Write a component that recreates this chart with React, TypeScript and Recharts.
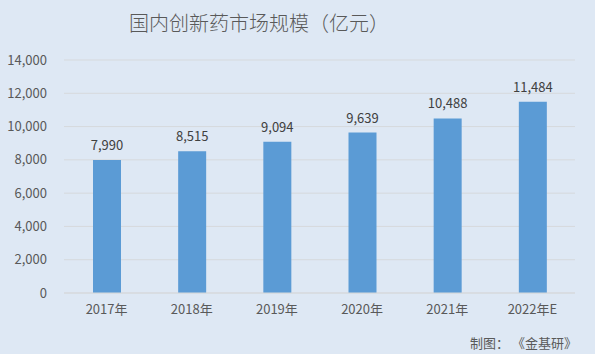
import { Bar, BarChart, CartesianGrid, LabelList, XAxis, YAxis } from "recharts";

const years = ["2017年", "2018年", "2019年", "2020年", "2021年", "2022年E"];
const marketSize = [7990, 8515, 9094, 9639, 10488, 11484];
const yTicks = [0, 2000, 4000, 6000, 8000, 10000, 12000, 14000];

const data = years.map((year, i) => ({ year, value: marketSize[i] }));

const font = '"Noto Sans CJK SC", "Noto Sans", sans-serif';
const fmt = (v: number) => v.toLocaleString("en-US");

const App = () => {
  return (
    <div
      style={{
        position: "absolute",
        top: 0,
        left: 0,
        width: 595,
        height: 354,
        background: "#dee8f4",
        fontFamily: font,
      }}
    >
      <div
        style={{
          position: "absolute",
          top: 8,
          left: 0,
          width: 518,
          textAlign: "center",
          fontSize: 20,
          fontWeight: 300,
          color: "#595959",
        }}
      >
        国内创新药市场规模（亿元）
      </div>
      <BarChart
        width={595}
        height={354}
        data={data}
        margin={{ top: 60, right: 20, left: 0, bottom: 31 }}
      >
        <CartesianGrid vertical={false} stroke="#d6d9dc" />
        <XAxis
          dataKey="year"
          height={30}
          tickSize={0}
          tickMargin={12}
          axisLine={{ stroke: "#d6d9dc" }}
          tick={{ fill: "#595959", fontSize: 13, fontFamily: font }}
        />
        <YAxis
          width={64}
          domain={[0, 14000]}
          ticks={yTicks}
          tickFormatter={fmt}
          axisLine={false}
          tickSize={0}
          tickMargin={17}
          tick={{ fill: "#595959", fontSize: 13, fontFamily: font }}
        />
        <Bar dataKey="value" fill="#5b9bd5" barSize={28} isAnimationActive={false}>
          <LabelList
            dataKey="value"
            position="top"
            offset={10}
            formatter={(v: any) => fmt(Number(v))}
            style={{ fill: "#404040", fontSize: 13, fontFamily: font }}
          />
        </Bar>
      </BarChart>
      <div
        style={{
          position: "absolute",
          top: 333,
          right: 18,
          fontSize: 13,
          color: "#595959",
          whiteSpace: "pre",
        }}
      >
        制图： 《金基研》
      </div>
    </div>
  );
};

export default App;
